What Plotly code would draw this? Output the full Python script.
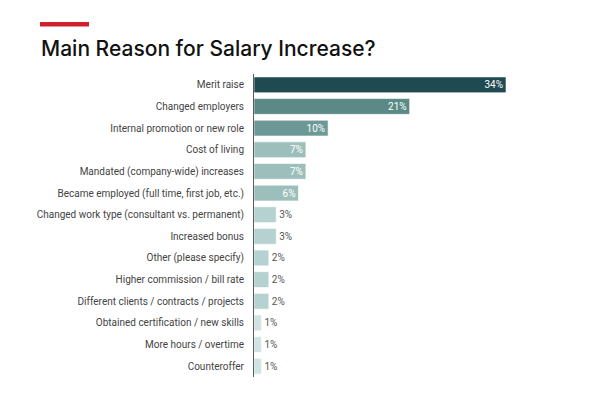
import plotly.graph_objects as go

categories = [
    "Merit raise",
    "Changed employers",
    "Internal promotion or new role",
    "Cost of living",
    "Mandated (company-wide) increases",
    "Became employed (full time, first job, etc.)",
    "Changed work type (consultant vs. permanent)",
    "Increased bonus",
    "Other (please specify)",
    "Higher commission / bill rate",
    "Different clients / contracts / projects",
    "Obtained certification / new skills",
    "More hours / overtime",
    "Counteroffer",
]
values = [34, 21, 10, 7, 7, 6, 3, 3, 2, 2, 2, 1, 1, 1]
labels = [f"{v}%" for v in values]
colors = ["#1f4a51", "#5b8a86", "#6c9996", "#9dbfbc", "#9dbfbc", "#9dbfbc",
          "#b6d2d0", "#b6d2d0", "#b6d2d0", "#b6d2d0", "#b6d2d0",
          "#cfe4e2", "#cfe4e2", "#cfe4e2"]

OFF = 8  # page body margin
W, H = 595, 397
L, R, T, B = 254 - OFF, 43, 74 - OFF, 28
pw, ph = W - L - R, H - T - B
px_per = 252 / 34.0
xmax = pw / px_per

def px(x):
    return (x - OFF - L) / pw

def py(y):
    return (H - B - (y - OFF)) / ph

textpos = ["inside" if v >= 5 else "outside" for v in values]
textcol = ["#ffffff" if v >= 5 else "#555555" for v in values]

fig = go.Figure(go.Bar(
    x=values, y=categories, orientation="h",
    marker=dict(color=colors, line=dict(color="rgba(255,255,255,0.6)", width=1)),
    text=labels, textposition=textpos, insidetextanchor="end",
    textfont=dict(color=textcol, size=10, family="Roboto"),
    cliponaxis=False,
))

fig.update_layout(
    width=W, height=H,
    margin=dict(l=L, r=R, t=T, b=B),
    paper_bgcolor="white", plot_bgcolor="white",
    bargap=0.27,
    showlegend=False,
    uniformtext=dict(minsize=10, mode="show"),
    font=dict(family="Roboto", color="#444444", size=10),
    xaxis=dict(range=[0, xmax], visible=False, fixedrange=True),
    yaxis=dict(autorange="reversed", showline=True, linecolor="#5a5a5a", linewidth=1,
               ticks="", showgrid=False, ticklabelstandoff=7,
               tickfont=dict(size=10, color="#444444", family="Roboto")),
    shapes=[dict(type="rect", xref="paper", yref="paper",
                 x0=px(40), x1=px(89), y0=py(26.5), y1=py(22),
                 fillcolor="#d0202e", line=dict(width=0))],
    annotations=[dict(text="Main Reason for Salary Increase?", xref="paper", yref="paper",
                      x=px(39), y=py(48), xanchor="left", yanchor="middle", showarrow=False,
                      font=dict(family="Inter", size=21, color="#111111", weight=500))],
)

fig.write_html("out.html")
